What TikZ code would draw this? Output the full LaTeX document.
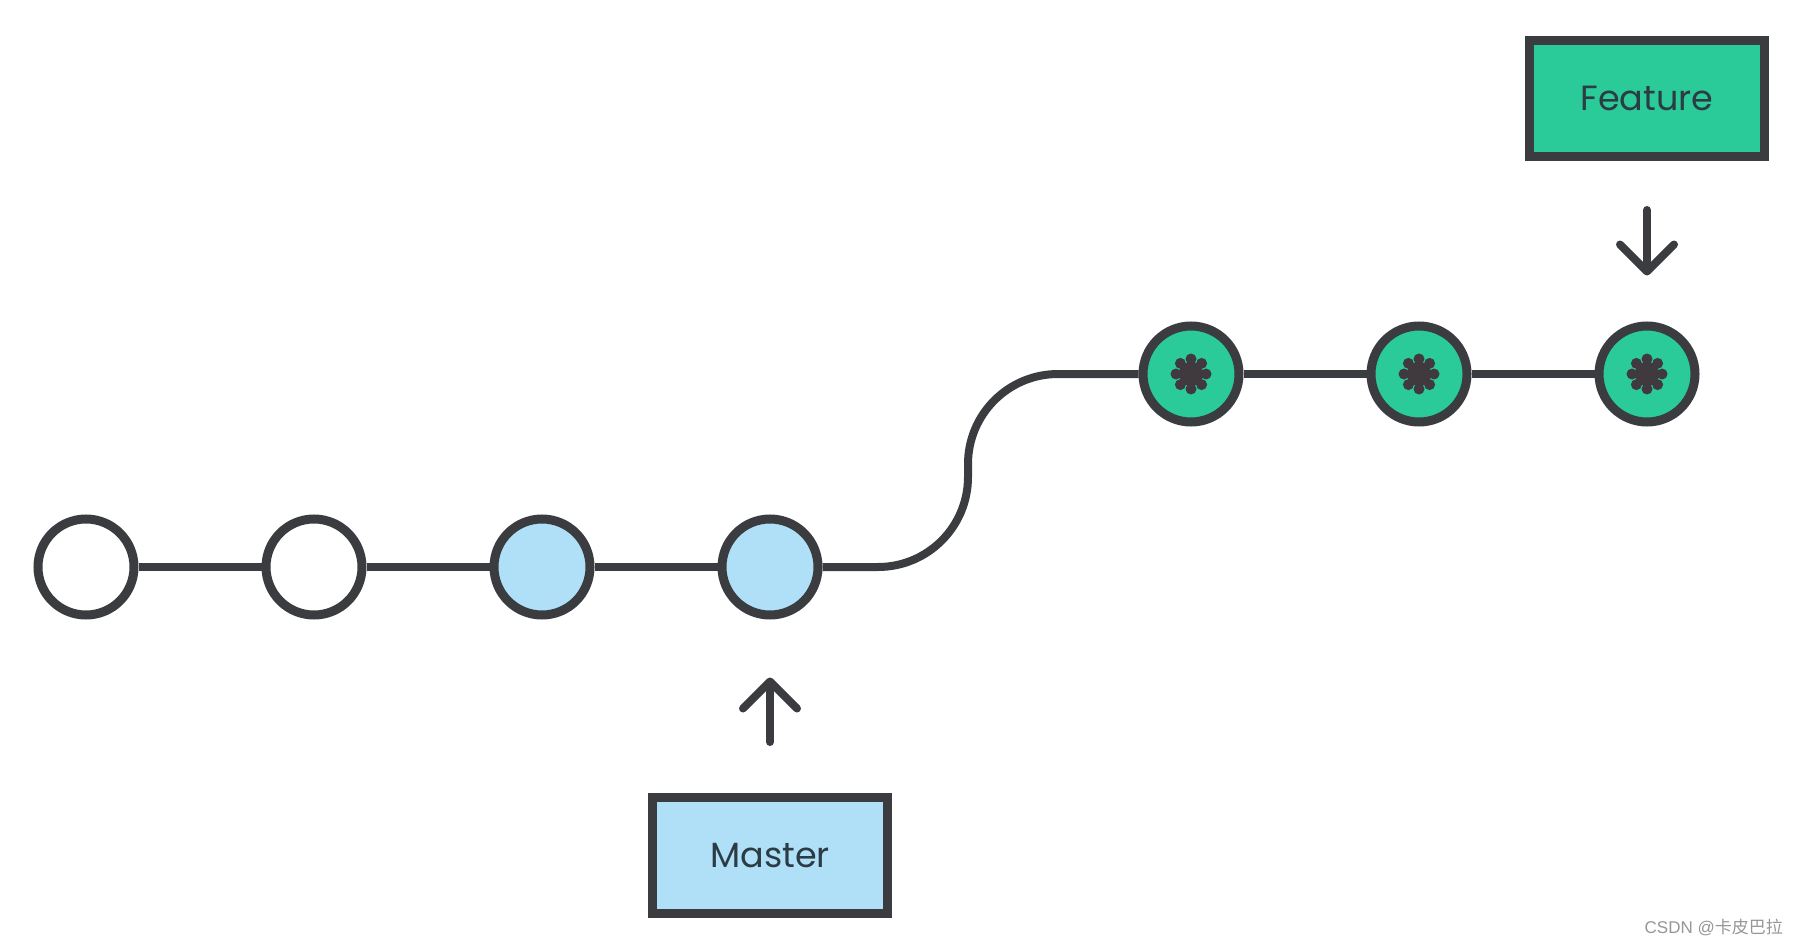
\documentclass[tikz,border=0pt]{standalone}
\usepackage{fontspec}
\setmainfont{Poppins}
\newfontfamily\wmlatin{Liberation Sans}
\newfontfamily\wmcjk{Noto Sans CJK SC}
\usetikzlibrary{arrows.meta}
\definecolor{ink}{RGB}{58,60,64}
\definecolor{dotink}{RGB}{64,58,62}
\definecolor{textink}{RGB}{44,60,68}
\definecolor{mint}{RGB}{43,202,153}
\definecolor{sky}{RGB}{176,224,248}
\definecolor{wmgray}{RGB}{150,150,150}
\tikzset{
  commit/.style={circle, draw=ink, line width=9pt, minimum size=96pt, inner sep=0pt},
  plaincommit/.style={commit, fill=white},
  mastercommit/.style={commit, fill=sky},
  featurecommit/.style={commit, fill=mint},
  branchbox/.style={rectangle, draw=ink, line width=9pt, minimum width=235pt, minimum height=116pt,
    inner sep=0pt, text=textink, font=\fontsize{35}{40}\selectfont},
  conn/.style={draw=ink, line width=8pt},
  pointer/.style={draw=ink, line width=8pt, line cap=round,
    -{Straight Barb[length=27pt, width=54pt, line cap=round, line join=round]}},
}
\begin{document}
\begin{tikzpicture}[x=1pt, y=-1pt]
\useasboundingbox (0,0) rectangle (1798,944);
\node[plaincommit]   (c1) at (86,567)  {};
\node[plaincommit]   (c2) at (314,567) {};
\node[mastercommit]  (c3) at (542,567) {};
\node[mastercommit]  (c4) at (770,567) {};
\node[featurecommit] (g1) at (1191,374) {};
\node[featurecommit] (g2) at (1419,374) {};
\node[featurecommit] (g3) at (1647,374) {};
\foreach \n in {g1,g2,g3}{
  \fill[dotink] (\n) circle (12pt);
  \foreach \a in {0,45,...,315}
    \fill[dotink] (\n) ++(\a:15pt) circle (5.5pt);
}
\draw[conn] (c1) -- (c2);
\draw[conn] (c2) -- (c3);
\draw[conn] (c3) -- (c4);
\draw[conn] (c4.east) -- (878,567)
  .. controls (927.7,567) and (968,526.7) .. (968,477) -- (968,464)
  .. controls (968,414.3) and (1008.3,374) .. (1058,374) -- (g1.west);
\draw[conn] (g1) -- (g2);
\draw[conn] (g2) -- (g3);
\node[branchbox, fill=sky]  (master)  at (770,855.5) {Master};
\node[branchbox, fill=mint] (feature) at (1647,98.5) {Feature};
\draw[pointer, shorten <=51pt, shorten >=58pt] (master.north) -- (c4.south);
\draw[pointer, shorten <=49pt, shorten >=46pt] (feature.south) -- (g3.north);
\node[anchor=base east, inner sep=0pt, text=wmgray, font=\fontsize{17}{20}\selectfont] (wm) at (1783,933)
  {{\wmlatin CSDN @}{\wmcjk 卡皮巴拉}};
\end{tikzpicture}
\end{document}
